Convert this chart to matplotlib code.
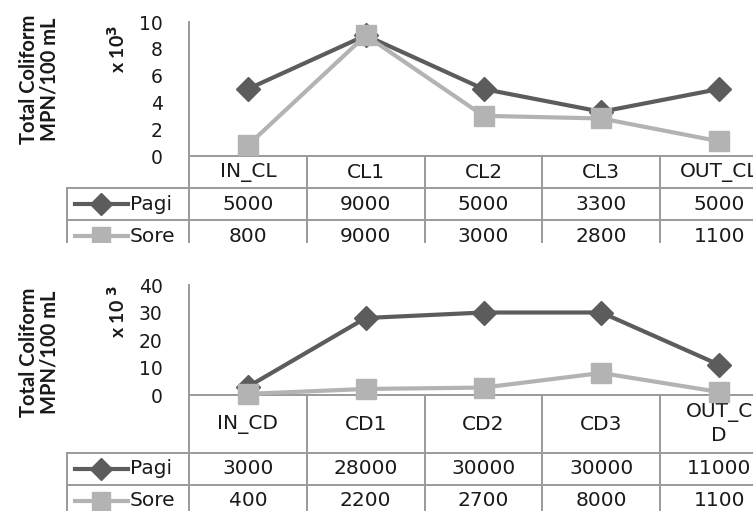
import matplotlib
matplotlib.use("Agg")
import matplotlib.pyplot as plt
from matplotlib.patches import Rectangle
from matplotlib.lines import Line2D

# ---------------- data ----------------
cats_top = ["IN_CL", "CL1", "CL2", "CL3", "OUT_CL"]
pagi_top = [5000, 9000, 5000, 3300, 5000]
sore_top = [800, 9000, 3000, 2800, 1100]
yticks_top = [0, 2, 4, 6, 8, 10]

cats_bot = ["IN_CD", "CD1", "CD2", "CD3", "OUT_C\nD"]
pagi_bot = [3000, 28000, 30000, 30000, 11000]
sore_bot = [400, 2200, 2700, 8000, 1100]
yticks_bot = [0, 10, 20, 30, 40]

series_names = ["Pagi", "Sore"]
ylabel = "Total Coliform\nMPN/100 mL"

# ---------------- style ----------------
W, H = 753, 511
C_PAGI = "#5c5c5c"
C_SORE = "#b3b3b3"
C_GRID = "#9a9a9a"
TXT = "#1a1a1a"
TABLE_FS = 14.5
TICK_FS = 13.5

fig = plt.figure(figsize=(W / 100, H / 100), dpi=100)
ov = fig.add_axes([0, 0, 1, 1], zorder=0)
ov.set_xlim(0, W)
ov.set_ylim(H, 0)
ov.axis("off")

AX_L, AX_R = 189, 778
NCAT = 5
CELL = (AX_R - AX_L) / NCAT
LEG_L = 67


def panel(cats, pagi, sore, yticks, ytop, ybot, cat_h, row_h, clip_y, xlab_text, xlab_y, ylab_y):
    ax = fig.add_axes([AX_L / W, (H - ybot) / H, (AX_R - AX_L) / W, (ybot - ytop) / H], zorder=2)
    ax.patch.set_visible(False)
    for s in ax.spines.values():
        s.set_visible(False)
    x = list(range(len(cats)))
    ax.plot(x, [v / 1000 for v in pagi], color=C_PAGI, lw=3, marker="D", ms=12,
            mfc=C_PAGI, mec=C_PAGI, clip_on=False, zorder=3)
    ax.plot(x, [v / 1000 for v in sore], color=C_SORE, lw=3, marker="s", ms=14,
            mfc=C_SORE, mec=C_SORE, clip_on=False, zorder=4)
    ax.set_xlim(-0.5, len(cats) - 0.5)
    ax.set_ylim(yticks[0], yticks[-1])
    ax.set_yticks(yticks)
    ax.set_yticklabels([str(t) for t in yticks], fontsize=TICK_FS, color=TXT, family="DejaVu Sans")
    ax.set_xticks([])
    ax.tick_params(axis="y", length=0, pad=19)

    r1 = ybot + cat_h
    r2 = r1 + row_h
    r3 = r2 + row_h
    # table grid
    ov.plot([AX_L, AX_R], [ybot, ybot], color=C_GRID, lw=1.4)
    ov.plot([LEG_L, AX_R], [r1, r1], color=C_GRID, lw=1.4)
    ov.plot([LEG_L, AX_R], [r2, r2], color=C_GRID, lw=1.4)
    ov.plot([LEG_L, AX_R], [r3, r3], color=C_GRID, lw=1.4)
    ov.plot([AX_L, AX_L], [ytop, r3], color=C_GRID, lw=1.4)
    ov.plot([LEG_L, LEG_L], [r1, r3], color=C_GRID, lw=1.4)
    for i in range(1, NCAT + 1):
        xv = AX_L + i * CELL
        ov.plot([xv, xv], [ybot, r3], color=C_GRID, lw=1.4)
    # category labels & values
    for i, c in enumerate(cats):
        cx = AX_L + (i + 0.5) * CELL
        ov.text(cx, ybot + cat_h / 2, c, ha="center", va="center", fontsize=TABLE_FS,
                color=TXT, family="DejaVu Sans", linespacing=1.25)
        ov.text(cx, r1 + row_h / 2, str(pagi[i]), ha="center", va="center",
                fontsize=TABLE_FS, color=TXT, family="DejaVu Sans")
        ov.text(cx, r2 + row_h / 2, str(sore[i]), ha="center", va="center",
                fontsize=TABLE_FS, color=TXT, family="DejaVu Sans")
    # legend keys
    for k, (name, col, mk, ms) in enumerate([(series_names[0], C_PAGI, "D", 11),
                                             (series_names[1], C_SORE, "s", 13)]):
        yy = r1 + row_h / 2 + k * row_h
        ov.add_line(Line2D([75, 128], [yy, yy], color=col, lw=3))
        ov.add_line(Line2D([101], [yy], color=col, marker=mk, ms=ms, mfc=col, mec=col))
        ov.text(130, yy, name, ha="left", va="center", fontsize=TABLE_FS, color=TXT,
                family="DejaVu Sans")
    # crop
    ov.add_patch(Rectangle((0, clip_y), W, 40, facecolor="white", edgecolor="none", zorder=10))
    # labels
    fig.text(39 / W, 1 - ylab_y / H, ylabel, rotation=90, ha="center", va="center",
             fontsize=14.5, fontweight="bold", family="Lato", color=TXT, linespacing=1.05)
    fig.text(117 / W, 1 - xlab_y / H, xlab_text, rotation=90, ha="center", va="center",
             fontsize=14, fontweight="bold", family="Lato", color=TXT)


panel(cats_top, pagi_top, sore_top, yticks_top, 22, 156, 32, 32, 243,
      r"x 10$^{\mathbf{3}}$", 49, 79)
panel(cats_bot, pagi_bot, sore_bot, yticks_bot, 285, 395, 58, 32, 520,
      r"x 10 $^{\mathbf{3}}$", 312, 352)

fig.savefig("out.png", dpi=100)
